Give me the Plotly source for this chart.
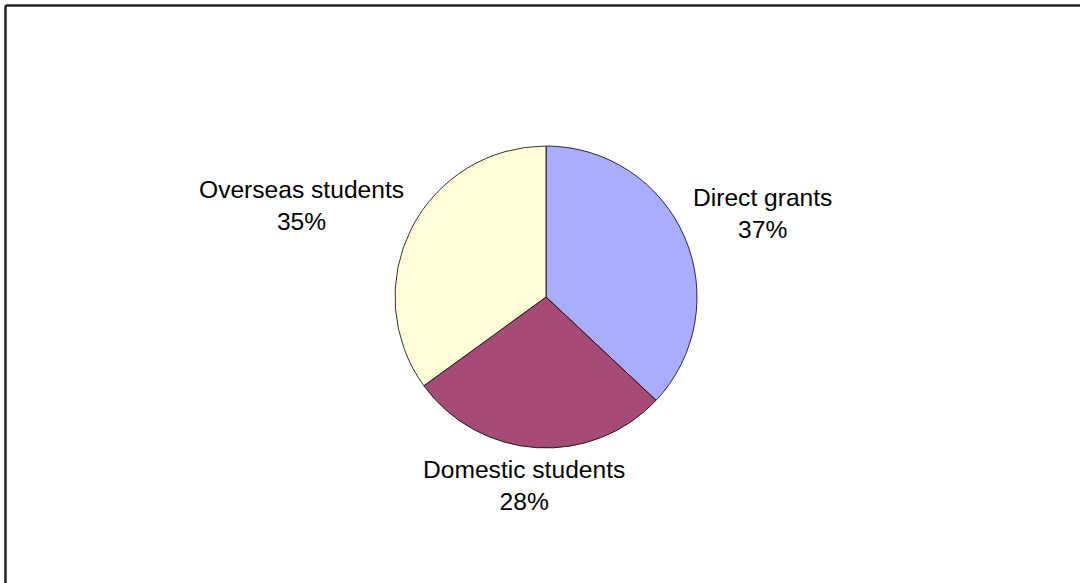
import plotly.graph_objects as go

labels = ["Direct grants", "Domestic students", "Overseas students"]
values = [37, 28, 35]
colors = ["#A8ADFF", "#A84A78", "#FFFDD8"]

W, H = 1080, 583
# label anchor positions (page pixels)
label_px = [(762.5, 214), (524, 485), (301, 205)]

cx, cy, r = 546, 297, 151


def fx(px):
    return px / W


def fy(py):
    return 1 - py / H


fig = go.Figure(go.Pie(
    labels=labels,
    values=values,
    sort=False,
    direction="clockwise",
    rotation=0,
    marker=dict(colors=colors, line=dict(color="#000000", width=0.8)),
    textinfo="none",
    hoverinfo="label+percent",
    showlegend=False,
    domain=dict(x=[fx(cx - r), fx(cx + r)], y=[fy(cy + r), fy(cy - r)]),
))

total = sum(values)
for lab, v, (px, py) in zip(labels, values, label_px):
    fig.add_annotation(
        x=fx(px), y=fy(py), xref="paper", yref="paper",
        text=f"{lab}<br>{round(100 * v / total)}%",
        showarrow=False, align="center",
        xanchor="center", yanchor="middle",
        font=dict(family="Liberation Sans, Arial, sans-serif", size=24.6, color="#000000"),
    )

# chart frame (left and top edges visible)
fig.add_shape(type="line", xref="paper", yref="paper",
              x0=fx(5.5), x1=fx(5.5), y0=0, y1=fy(5.5),
              line=dict(color="#222222", width=2.5))
fig.add_shape(type="line", xref="paper", yref="paper",
              x0=fx(5.5), x1=1, y0=fy(5.5), y1=fy(5.5),
              line=dict(color="#222222", width=2.5))

fig.update_layout(
    width=W, height=H,
    margin=dict(l=0, r=0, t=0, b=0),
    paper_bgcolor="#FFFFFF",
    plot_bgcolor="#FFFFFF",
)

fig.write_html("out.html", config={"displayModeBar": False},
               post_script="document.body.style.margin='0';")
